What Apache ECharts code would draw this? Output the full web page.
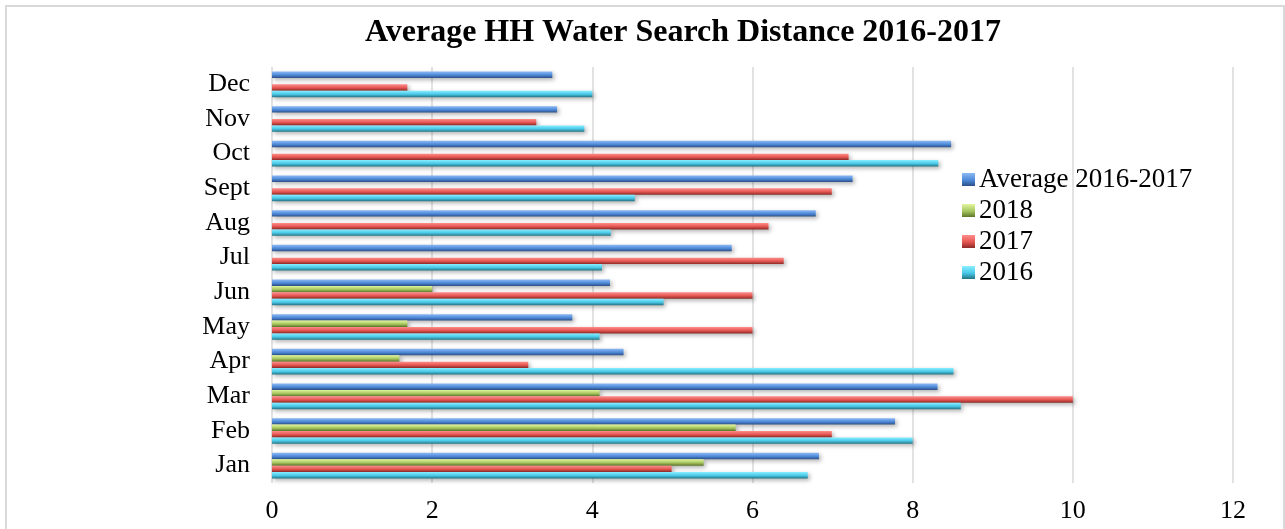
<!DOCTYPE html>
<html>
<head>
<meta charset="utf-8">
<script src="https://cdn.jsdelivr.net/npm/echarts@6/dist/echarts.min.js"></script>
<style>
  html, body { margin: 0; padding: 0; background: #fff; }
  #chart { width: 1285px; height: 529px; }
</style>
</head>
<body>
<div id="chart"></div>
<script>
// Monthly categories (bottom to top) and distances per year
const months = ['Jan', 'Feb', 'Mar', 'Apr', 'May', 'Jun', 'Jul', 'Aug', 'Sept', 'Oct', 'Nov', 'Dec'];
const avg1617 = [6.83, 7.78, 8.31, 4.39, 3.75, 4.22, 5.74, 6.79, 7.25, 8.48, 3.56, 3.50];
const y2018 = [5.39, 5.79, 4.09, 1.59, 1.69, 2.00, null, null, null, null, null, null];
const y2017 = [4.99, 6.99, 10.0, 3.20, 6.00, 6.00, 6.39, 6.20, 6.99, 7.20, 3.30, 1.69];
const y2016 = [6.69, 8.00, 8.60, 8.51, 4.09, 4.89, 4.12, 4.23, 4.53, 8.32, 3.90, 4.00];
const xTicks = [0, 2, 4, 6, 8, 10, 12];

const serif = "'Liberation Serif', 'Times New Roman', serif";

// Bevelled bar look: light top edge, mid body, dark bottom edge
function bevel(light, mid, dark) {
  return new echarts.graphic.LinearGradient(0, 0, 0, 1, [
    { offset: 0, color: light },
    { offset: 0.55, color: mid },
    { offset: 1, color: dark }
  ]);
}

function barSeries(name, data, colors) {
  return {
    name: name,
    type: 'bar',
    data: data,
    barWidth: 6.4,
    barGap: '0%',
    itemStyle: {
      color: bevel(colors[0], colors[1], colors[2]),
      shadowColor: 'rgba(0,0,0,0.3)',
      shadowBlur: 4,
      shadowOffsetX: 2,
      shadowOffsetY: 2
    },
    emphasis: { disabled: true }
  };
}

const chart = echarts.init(document.getElementById('chart'), null, { renderer: 'canvas' });

chart.setOption({
  animation: false,
  backgroundColor: '#ffffff',
  title: {
    text: 'Average HH Water Search Distance 2016-2017',
    left: 678,
    top: 12,
    textAlign: 'center',
    textStyle: { fontFamily: serif, fontWeight: 'bold', fontSize: 32, color: '#000' }
  },
  graphic: [{
    type: 'rect',
    shape: { x: 6, y: 6, width: 1278, height: 600 },
    style: { fill: 'none', stroke: '#d9d9d9', lineWidth: 2 },
    silent: true
  }],
  legend: {
    orient: 'vertical',
    left: 957,
    top: 161,
    itemWidth: 13,
    itemHeight: 13,
    itemGap: 4,
    icon: 'rect',
    data: ['Average 2016-2017', '2018', '2017', '2016'],
    textStyle: { fontFamily: serif, fontSize: 27, color: '#000', padding: [0, 0, 0, -1], lineHeight: 27 }
  },
  grid: { left: 272, right: 52, top: 67, bottom: 46 },
  xAxis: {
    type: 'value',
    min: xTicks[0],
    max: xTicks[xTicks.length - 1],
    interval: 2,
    axisLine: { show: false },
    axisTick: { show: false },
    axisLabel: { fontFamily: serif, fontSize: 26, color: '#000', margin: 15 },
    splitLine: { show: true, lineStyle: { color: '#d9d9d9', width: 1.5 } }
  },
  yAxis: {
    type: 'category',
    data: months,
    axisLine: { show: false },
    axisTick: { show: false },
    axisLabel: { fontFamily: serif, fontSize: 26, color: '#000', margin: 22 }
  },
  // Series order sets the stacking inside each month: first series sits on top
  series: [
    barSeries('Average 2016-2017', avg1617, ['#8cb9f4', '#4d88d8', '#2c4f86']),
    barSeries('2018', y2018, ['#e2f69e', '#a6c65e', '#5e7628']),
    barSeries('2017', y2017, ['#ff8e8c', '#e45550', '#8c2a28']),
    barSeries('2016', y2016, ['#8aeeff', '#48c8e8', '#247482'])
  ]
});
</script>
</body>
</html>
